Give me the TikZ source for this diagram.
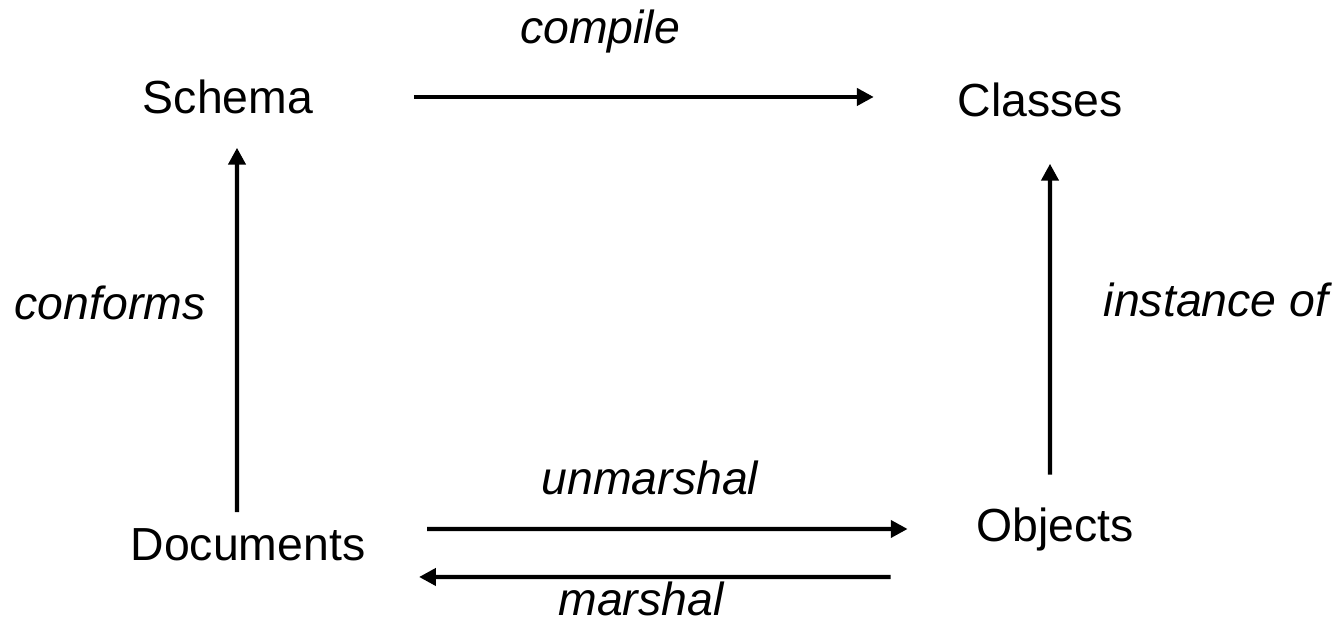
\documentclass[tikz,border=0pt]{standalone}
\usepackage{fontspec}
\setmainfont{Liberation Sans}
\usetikzlibrary{arrows.meta}

\begin{document}
\begin{tikzpicture}[
    nombre/.style={inner sep=0pt, font=\fontsize{13.2}{16}\selectfont},
    etiqueta/.style={inner sep=0pt, font=\fontsize{13.2}{16}\selectfont\itshape},
    flecha/.style={line width=1.2pt, -{Triangle[length=4.8pt,width=4.8pt]}}
]

        % Marco
        \useasboundingbox (0,0) rectangle (13.39,6.22);

        % Conceptos
        \node[nombre] (schema) at (2.28,5.25) {Schema};
        \node[nombre] (classes) at (10.40,5.22) {Classes};
        \node[nombre] (documents) at (2.48,0.77) {Documents};
        \node[nombre] (objects) at (10.55,0.92) {Objects};

        % Flechas
        \draw[flecha] ([xshift=1.0cm]schema.east) -- ([xshift=-0.83cm,yshift=0.03cm]classes.west);
        \draw[flecha] ([xshift=-0.11cm,yshift=0.16cm]documents.north) -- ([xshift=0.09cm,yshift=-0.33cm]schema.south);
        \draw[flecha] ([xshift=-0.05cm,yshift=0.33cm]objects.north) -- ([xshift=0.10cm,yshift=-0.46cm]classes.south);
        \draw[flecha] ([xshift=0.61cm,yshift=0.16cm]documents.east) -- ([xshift=-0.68cm,yshift=0.01cm]objects.west);
        \draw[flecha] ([xshift=-0.85cm,yshift=-0.47cm]objects.west) -- ([xshift=0.53cm,yshift=-0.32cm]documents.east);

        % Etiquetas de las flechas
        \node[etiqueta] (compile) at (6.00,5.90) {compile};
        \node[etiqueta] (conforms) at (1.10,3.19) {conforms};
        \node[etiqueta] (instance) at (12.16,3.22) {instance of};
        \node[etiqueta] (unmarshal) at (6.50,1.44) {unmarshal};
        \node[etiqueta] (marshal) at (6.41,0.23) {marshal};

\end{tikzpicture}
\end{document}
